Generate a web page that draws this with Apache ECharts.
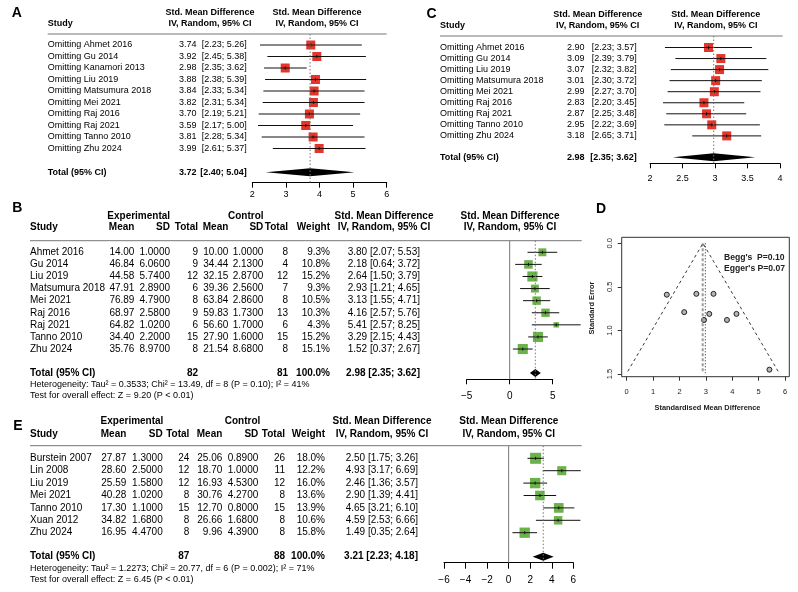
<!DOCTYPE html>
<html>
<head>
<meta charset="utf-8">
<script src="https://cdn.jsdelivr.net/npm/echarts@6/dist/echarts.min.js"></script>
<style>
  html, body { margin: 0; padding: 0; background: #fff; }
  #chart { width: 798px; height: 592px; }
</style>
</head>
<body>
<div id="chart"></div>
<script>
// ---- A: leave-one-out (all studies)
const studiesA = ['Omitting Ahmet 2016', 'Omitting Gu 2014', 'Omitting Kanamori 2013', 'Omitting Liu 2019',
  'Omitting Matsumura 2018', 'Omitting Mei 2021', 'Omitting Raj 2016', 'Omitting Raj 2021',
  'Omitting Tanno 2010', 'Omitting Zhu 2024']
const estA = [3.74, 3.92, 2.98, 3.88, 3.84, 3.82, 3.70, 3.59, 3.81, 3.99]
const loA = [2.23, 2.45, 2.35, 2.38, 2.33, 2.31, 2.19, 2.17, 2.28, 2.61]
const hiA = [5.26, 5.38, 3.62, 5.39, 5.34, 5.34, 5.21, 5.00, 5.34, 5.37]
const totalA = [3.72, 2.40, 5.04]
const ticksA = [2, 6, 1]

// ---- C: leave-one-out (Kanamori removed)
const studiesC = ['Omitting Ahmet 2016', 'Omitting Gu 2014', 'Omitting Liu 2019', 'Omitting Matsumura 2018',
  'Omitting Mei 2021', 'Omitting Raj 2016', 'Omitting Raj 2021', 'Omitting Tanno 2010', 'Omitting Zhu 2024']
const estC = [2.90, 3.09, 3.07, 3.01, 2.99, 2.83, 2.87, 2.95, 3.18]
const loC = [2.23, 2.39, 2.32, 2.30, 2.27, 2.20, 2.25, 2.22, 2.65]
const hiC = [3.57, 3.79, 3.82, 3.72, 3.70, 3.45, 3.48, 3.69, 3.71]
const totalC = [2.98, 2.35, 3.62]
const ticksC = [2, 4, 0.5]

// ---- B: forest plot
const studiesB = ['Ahmet 2016', 'Gu 2014', 'Liu 2019', 'Matsumura 2018', 'Mei 2021', 'Raj 2016', 'Raj 2021', 'Tanno 2010', 'Zhu 2024']
const expMeanB = [14.00, 46.84, 44.58, 47.91, 76.89, 68.97, 64.82, 34.40, 35.76]
const expSdB = [1.0, 6.06, 5.74, 2.89, 4.79, 2.58, 1.02, 2.20, 8.97]
const expNB = [9, 9, 12, 6, 8, 9, 6, 15, 8]
const ctrlMeanB = [10.00, 34.44, 32.15, 39.36, 63.84, 59.83, 56.60, 27.90, 21.54]
const ctrlSdB = [1.0, 2.13, 2.87, 2.56, 2.86, 1.73, 1.70, 1.60, 8.68]
const ctrlNB = [8, 4, 12, 7, 8, 13, 6, 15, 8]
const weightB = [9.3, 10.8, 15.2, 9.3, 10.5, 10.3, 4.3, 15.2, 15.1]
const estB = [3.80, 2.18, 2.64, 2.93, 3.13, 4.16, 5.41, 3.29, 1.52]
const loB = [2.07, 0.64, 1.50, 1.21, 1.55, 2.57, 2.57, 2.15, 0.37]
const hiB = [5.53, 3.72, 3.79, 4.65, 4.71, 5.76, 8.25, 4.43, 2.67]
const totalB = [2.98, 2.35, 3.62]
const totalNB = [82, 81]
const hetB = 'Heterogeneity: Tau\u00b2 = 0.3533; Chi\u00b2 = 13.49, df = 8 (P = 0.10); I\u00b2 = 41%'
const testB = 'Test for overall effect: Z = 9.20 (P < 0.01)'
const ticksB = [-5, 5, 5]

// ---- E: forest plot
const studiesE = ['Burstein 2007', 'Lin 2008', 'Liu 2019', 'Mei 2021', 'Tanno 2010', 'Xuan 2012', 'Zhu 2024']
const expMeanE = [27.87, 28.60, 25.59, 40.28, 17.30, 34.82, 16.95]
const expSdE = [1.30, 2.50, 1.58, 1.02, 1.10, 1.68, 4.47]
const expNE = [24, 12, 12, 8, 15, 8, 8]
const ctrlMeanE = [25.06, 18.70, 16.93, 30.76, 12.70, 26.66, 9.96]
const ctrlSdE = [0.89, 1.00, 4.53, 4.27, 0.80, 1.68, 4.39]
const ctrlNE = [26, 11, 12, 8, 15, 8, 8]
const weightE = [18.0, 12.2, 16.0, 13.6, 13.9, 10.6, 15.8]
const estE = [2.50, 4.93, 2.46, 2.90, 4.65, 4.59, 1.49]
const loE = [1.75, 3.17, 1.36, 1.39, 3.21, 2.53, 0.35]
const hiE = [3.26, 6.69, 3.57, 4.41, 6.10, 6.66, 2.64]
const totalE = [3.21, 2.23, 4.18]
const totalNE = [87, 88]
const hetE = 'Heterogeneity: Tau\u00b2 = 1.2273; Chi\u00b2 = 20.77, df = 6 (P = 0.002); I\u00b2 = 71%'
const testE = 'Test for overall effect: Z = 6.45 (P < 0.01)'
const ticksE = [-6, 6, 2]

// ---- D: funnel plot
const funnelSmd = [3.80, 2.18, 2.64, 2.93, 3.13, 4.16, 5.41, 3.29, 1.52]
const funnelSe = [0.88, 0.79, 0.58, 0.88, 0.81, 0.81, 1.45, 0.58, 0.59]
const funnelEdge = [[0.04, 1.47], [2.89, 0], [5.74, 1.47]]
const fixedEst = 2.88
const randomEst = 2.98
const funnelSeMax = 1.49
const beggText = "Begg's  P=0.10"
const eggerText = "Egger's P=0.07"

const FONT = '"Liberation Sans", Arial, Helvetica, sans-serif'
const graphics = []
const grids = [], xAxes = [], yAxes = [], series = []

function text(x, y, s, size, opts) {
  opts = opts || {}
  graphics.push({
    type: 'text', x: x, y: y, rotation: opts.rotation || 0, silent: true,
    style: {
      text: s, fill: opts.color || '#000',
      font: (opts.bold ? 'bold ' : '') + size + 'px ' + FONT,
      textAlign: opts.align || 'left', textVerticalAlign: 'middle'
    }
  })
}

function rule(x1, x2, y) {
  graphics.push({ type: 'line', silent: true, shape: { x1: x1, y1: y, x2: x2, y2: y }, style: { stroke: '#777', lineWidth: 1 } })
}

function ciText(e, l, h, sep) {
  return e.toFixed(2) + sep + '[' + l.toFixed(2) + '; ' + h.toFixed(2) + ']'
}

// forest graph part: grid + axes + squares + diamond + reference lines
function forest(L, est, lo, hi, total, ticks, color, weights, zeroLine) {
  const idx = grids.length
  const yMin = (L.top - L.row0) / L.step
  const yMax = (L.axisY - L.row0) / L.step
  const totalRow = (L.totalY - L.row0) / L.step
  grids.push({ left: L.x0, top: L.top, width: L.x1 - L.x0, height: L.axisY - L.top, outerBoundsMode: 'none' })
  xAxes.push({
    gridIndex: idx, type: 'value', min: ticks[0], max: ticks[1], interval: ticks[2],
    axisLine: { onZero: false, lineStyle: { color: '#000', width: 1 } },
    axisTick: { length: L.tick, lineStyle: { color: '#000' } },
    axisLabel: {
      fontSize: L.fs, color: '#000', margin: L.margin, fontFamily: FONT,
      formatter: v => String(v).replace('-', '\u2212')
    },
    splitLine: { show: false }
  })
  yAxes.push({ gridIndex: idx, type: 'value', inverse: true, min: yMin, max: yMax, show: false })

  if (zeroLine) {
    series.push({
      type: 'line', xAxisIndex: idx, yAxisIndex: idx, symbol: 'none', silent: true,
      data: [[0, yMin], [0, yMax]], lineStyle: { color: '#777', width: 1 }
    })
  }
  series.push({
    type: 'line', xAxisIndex: idx, yAxisIndex: idx, symbol: 'none', silent: true,
    data: [[total[0], yMin], [total[0], yMax]], lineStyle: { color: '#777', width: 1, type: [1.5, 2] }
  })
  series.push({
    type: 'custom', xAxisIndex: idx, yAxisIndex: idx, silent: true, clip: false,
    data: est.map((e, i) => [e, lo[i], hi[i], i, weights ? weights[i] : 0]),
    renderItem: (params, api) => {
      const row = api.value(3)
      const pE = api.coord([api.value(0), row])
      const pL = api.coord([api.value(1), row])
      const pH = api.coord([api.value(2), row])
      const s = weights ? 2.6 * Math.sqrt(api.value(4)) : 9
      return {
        type: 'group', children: [
          { type: 'rect', shape: { x: pE[0] - s / 2, y: pE[1] - s / 2, width: s, height: s }, style: { fill: color } },
          { type: 'line', shape: { x1: pL[0], y1: pE[1], x2: pH[0], y2: pE[1] }, style: { stroke: '#111', lineWidth: 1 } },
          { type: 'line', shape: { x1: pE[0], y1: pE[1] - 1.5, x2: pE[0], y2: pE[1] + 1.5 }, style: { stroke: '#111', lineWidth: 1 } }
        ]
      }
    }
  })
  series.push({
    type: 'custom', xAxisIndex: idx, yAxisIndex: idx, silent: true, clip: false,
    data: [[total[0], total[1], total[2], totalRow]],
    renderItem: (params, api) => {
      const row = api.value(3)
      const c = api.coord([api.value(0), row])
      const l = api.coord([api.value(1), row])
      const h = api.coord([api.value(2), row])
      return {
        type: 'polygon',
        shape: { points: [[l[0], c[1]], [c[0], c[1] - 4], [h[0], c[1]], [c[0], c[1] + 4]] },
        style: { fill: '#000' }
      }
    }
  })
}

// ================= Panel A
const LA = { x0: 252.3, x1: 386.7, top: 34, axisY: 182.7, row0: 45, step: 11.5, totalY: 172.3, fs: 9, margin: 7, tick: 5 }
text(11.7, 12.7, 'A', 14, { bold: true })
text(47.7, 24, 'Study', 9, { bold: true })
text(210, 13, 'Std. Mean Difference', 9, { bold: true, align: 'center' })
text(210, 24, 'IV, Random, 95% CI', 9, { bold: true, align: 'center' })
text(317, 13, 'Std. Mean Difference', 9, { bold: true, align: 'center' })
text(317, 24, 'IV, Random, 95% CI', 9, { bold: true, align: 'center' })
rule(47.7, 386.7, 34)
studiesA.forEach((s, i) => {
  const y = LA.row0 + i * LA.step
  text(47.7, y, s, 9)
  text(196.5, y, estA[i].toFixed(2), 9, { align: 'right' })
  text(246.7, y, '[' + loA[i].toFixed(2) + '; ' + hiA[i].toFixed(2) + ']', 9, { align: 'right' })
})
text(47.7, LA.totalY, 'Total (95% CI)', 9, { bold: true })
text(196.5, LA.totalY, totalA[0].toFixed(2), 9, { bold: true, align: 'right' })
text(246.7, LA.totalY, '[' + totalA[1].toFixed(2) + '; ' + totalA[2].toFixed(2) + ']', 9, { bold: true, align: 'right' })
forest(LA, estA, loA, hiA, totalA, ticksA, '#e5352b', null, false)

// ================= Panel C
const LC = { x0: 650, x1: 780, top: 36, axisY: 163.3, row0: 47.5, step: 11.05, totalY: 157.3, fs: 9, margin: 11, tick: 5 }
text(426.5, 14, 'C', 14, { bold: true })
text(440, 26, 'Study', 9, { bold: true })
text(597.7, 15, 'Std. Mean Difference', 9, { bold: true, align: 'center' })
text(597.7, 26, 'IV, Random, 95% CI', 9, { bold: true, align: 'center' })
text(715.8, 15, 'Std. Mean Difference', 9, { bold: true, align: 'center' })
text(715.8, 26, 'IV, Random, 95% CI', 9, { bold: true, align: 'center' })
rule(440, 782.7, 36)
studiesC.forEach((s, i) => {
  const y = LC.row0 + i * LC.step
  text(440, y, s, 9)
  text(584.5, y, estC[i].toFixed(2), 9, { align: 'right' })
  text(636.7, y, '[' + loC[i].toFixed(2) + '; ' + hiC[i].toFixed(2) + ']', 9, { align: 'right' })
})
text(440, LC.totalY, 'Total (95% CI)', 9, { bold: true })
text(584.5, LC.totalY, totalC[0].toFixed(2), 9, { bold: true, align: 'right' })
text(636.7, LC.totalY, '[' + totalC[1].toFixed(2) + '; ' + totalC[2].toFixed(2) + ']', 9, { bold: true, align: 'right' })
forest(LC, estC, loC, hiC, totalC, ticksC, '#e5352b', null, false)

// ================= Panels B and E (tables)
function table(T, letter, studies, eM, eS, eN, cM, cS, cN, w, est, lo, hi, total, totalN, het, test) {
  const c = T.cols
  text(T.letterX, T.letterY, letter, 14, { bold: true })
  text(c.expCenter, T.h1, 'Experimental', 10, { bold: true, align: 'center' })
  text(c.ctrlCenter, T.h1, 'Control', 10, { bold: true, align: 'center' })
  text(c.smd, T.h1, 'Std. Mean Difference', 10, { bold: true, align: 'center' })
  text(c.plot, T.h1, 'Std. Mean Difference', 10, { bold: true, align: 'center' })
  const h2 = [['Study', 30, 'left'], ['Mean', c.eM, 'right'], ['SD', c.eS, 'right'], ['Total', c.eN, 'right'],
    ['Mean', c.cM, 'right'], ['SD', c.cS, 'right'], ['Total', c.cN, 'right'], ['Weight', c.w, 'right'],
    ['IV, Random, 95% CI', c.smd, 'center'], ['IV, Random, 95% CI', c.plot, 'center']]
  h2.forEach(h => text(h[1], T.h2, h[0], 10, { bold: true, align: h[2] }))
  rule(30, 581.7, T.rule)
  studies.forEach((s, i) => {
    const y = T.row0 + i * T.step
    text(30, y, s, 10)
    text(c.eM, y, eM[i].toFixed(2), 10, { align: 'right' })
    text(c.eS, y, eS[i].toFixed(4), 10, { align: 'right' })
    text(c.eN, y, String(eN[i]), 10, { align: 'right' })
    text(c.cM, y, cM[i].toFixed(2), 10, { align: 'right' })
    text(c.cS, y, cS[i].toFixed(4), 10, { align: 'right' })
    text(c.cN, y, String(cN[i]), 10, { align: 'right' })
    text(c.w, y, w[i].toFixed(1) + '%', 10, { align: 'right' })
    text(c.eff, y, ciText(est[i], lo[i], hi[i], ' '), 10, { align: 'right' })
  })
  text(30, T.totalY, 'Total (95% CI)', 10, { bold: true })
  text(c.eN, T.totalY, String(totalN[0]), 10, { bold: true, align: 'right' })
  text(c.cN, T.totalY, String(totalN[1]), 10, { bold: true, align: 'right' })
  text(c.w, T.totalY, '100.0%', 10, { bold: true, align: 'right' })
  text(c.eff, T.totalY, ciText(total[0], total[1], total[2], ' '), 10, { bold: true, align: 'right' })
  text(30, T.het, het, 9)
  text(30, T.test, test, 9)
}

const TB = {
  letterX: 12.3, letterY: 208, h1: 216, h2: 227.3, rule: 240.7, row0: 252.3, step: 12.09, totalY: 373, het: 385, test: 396,
  cols: { expCenter: 138.7, ctrlCenter: 245.8, smd: 384, plot: 510, eM: 134.4, eS: 170, eN: 198, cM: 228.3, cS: 263.3, cN: 288, w: 330, eff: 420 }
}
table(TB, 'B', studiesB, expMeanB, expSdB, expNB, ctrlMeanB, ctrlSdB, ctrlNB, weightB, estB, loB, hiB, totalB, totalNB, hetB, testB)
const LB = { x0: 466.7, x1: 552.7, top: 240.7, axisY: 379.3, row0: 252.3, step: 12.09, totalY: 373, fs: 10, margin: 12, tick: 5 }
forest(LB, estB, loB, hiB, totalB, ticksB, '#6cb24a', weightB, true)

const TE = {
  letterX: 13.3, letterY: 426, h1: 421.7, h2: 434, rule: 445.7, row0: 458.3, step: 12.4, totalY: 556.7, het: 568.3, test: 580,
  cols: { expCenter: 132, ctrlCenter: 242.5, smd: 382, plot: 508.8, eM: 126.3, eS: 162.7, eN: 189.3, cM: 222.3, cS: 258.3, cN: 285, w: 325, eff: 418 }
}
table(TE, 'E', studiesE, expMeanE, expSdE, expNE, ctrlMeanE, ctrlSdE, ctrlNE, weightE, estE, loE, hiE, totalE, totalNE, hetE, testE)
const LE = { x0: 444, x1: 573.3, top: 445.7, axisY: 562.7, row0: 458.3, step: 12.4, totalY: 556.7, fs: 10, margin: 13, tick: 6 }
forest(LE, estE, loE, hiE, totalE, ticksE, '#6cb24a', weightE, true)

// ================= Panel D (funnel)
const dIdx = grids.length
grids.push({ left: 626.7, top: 243.3, width: 158.3, height: 130.7, outerBoundsMode: 'none' })
xAxes.push({
  gridIndex: dIdx, type: 'value', min: 0, max: 6, interval: 1, offset: 2.7,
  axisLine: { show: false, onZero: false },
  axisTick: { length: 4, lineStyle: { color: '#333' } },
  axisLabel: { fontSize: 7.5, color: '#222', margin: 11, fontFamily: FONT },
  splitLine: { show: false }
})
yAxes.push({
  gridIndex: dIdx, type: 'value', inverse: true, min: 0, max: 1.5, interval: 0.5, offset: 5,
  axisLine: { show: false, onZero: false },
  axisTick: { show: true, length: 4, lineStyle: { color: '#333' } },
  axisLabel: { fontSize: 7.5, color: '#222', margin: 8, rotate: 90, fontFamily: FONT, formatter: v => v.toFixed(1) },
  splitLine: { show: false }
})
graphics.push({ type: 'rect', silent: true, shape: { x: 621.7, y: 237.3, width: 167.6, height: 139.4 }, style: { fill: 'none', stroke: '#333', lineWidth: 1 } })
series.push({
  type: 'line', xAxisIndex: dIdx, yAxisIndex: dIdx, symbol: 'none', silent: true,
  data: [[fixedEst, 0], [fixedEst, funnelSeMax]], lineStyle: { color: '#9a9a9a', width: 2, type: [3, 2] }
})
series.push({
  type: 'line', xAxisIndex: dIdx, yAxisIndex: dIdx, symbol: 'none', silent: true,
  data: [[randomEst, 0], [randomEst, funnelSeMax]], lineStyle: { color: '#222', width: 1, type: [1, 2] }
})
series.push({
  type: 'line', xAxisIndex: dIdx, yAxisIndex: dIdx, symbol: 'none', silent: true,
  data: funnelEdge, lineStyle: { color: '#222', width: 0.9, type: [3, 3] }
})
series.push({
  type: 'scatter', xAxisIndex: dIdx, yAxisIndex: dIdx, silent: true, symbol: 'circle', symbolSize: 5,
  data: funnelSmd.map((x, i) => [x, funnelSe[i]]),
  itemStyle: { color: '#b5b5b5', borderColor: '#222', borderWidth: 1, opacity: 1 }
})
text(596, 209, 'D', 14, { bold: true })
text(724, 257.3, beggText, 8.6, { bold: true, color: '#222' })
text(724, 268.3, eggerText, 8.6, { bold: true, color: '#222' })
text(591.7, 308, 'Standard Error', 7.5, { bold: true, color: '#222', align: 'center', rotation: Math.PI / 2 })
text(707.5, 408.3, 'Standardised Mean Difference', 7.4, { bold: true, color: '#222', align: 'center' })

const chart = echarts.init(document.getElementById('chart'), null, { renderer: 'canvas' })
chart.setOption({
  animation: false,
  backgroundColor: '#fff',
  grid: grids,
  xAxis: xAxes,
  yAxis: yAxes,
  series: series,
  graphic: { elements: graphics }
})
</script>
</body>
</html>
